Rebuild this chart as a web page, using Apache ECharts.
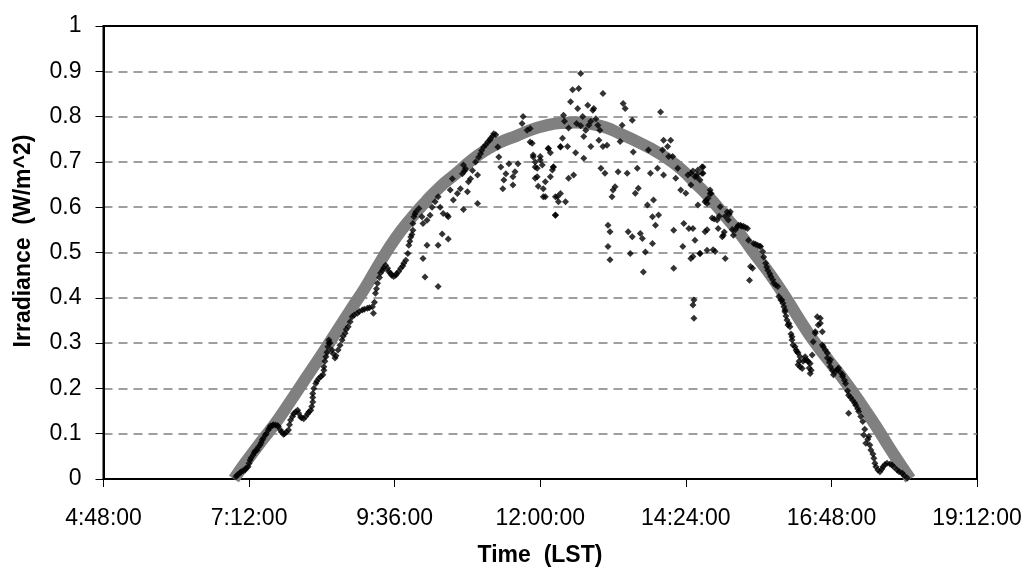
<!DOCTYPE html>
<html>
<head>
<meta charset="utf-8">
<script src="https://cdn.jsdelivr.net/npm/echarts@6/dist/echarts.min.js"></script>
<style>
html,body{margin:0;padding:0;background:#fff;}
#chart{width:1028px;height:573px;}
</style>
</head>
<body>
<div id="chart"></div>
<script>
// Clear-sky model curve (time in minutes after midnight, LST)
const clearTime = [417,428,443,458,473,488,503,517,532,547,562,577,592,607,621,636,651,666,681,696,710,725,740,755,770,785,799,814,829,844,859,874,888,903,918,933,948,963,977,992,1007,1022,1037,1052,1066,1076,1086];
const clearIrr  = [0,0.035,0.08,0.123,0.172,0.222,0.272,0.32,0.372,0.423,0.48,0.532,0.575,0.613,0.645,0.673,0.702,0.726,0.744,0.757,0.77,0.78,0.786,0.787,0.784,0.776,0.762,0.747,0.73,0.71,0.685,0.652,0.62,0.58,0.54,0.494,0.45,0.40,0.35,0.30,0.257,0.214,0.167,0.117,0.067,0.033,0];

// Measured irradiance, [minutes after midnight, W/m^2]
const obsMorning = [
[419,.005],[420,.008],[421,.01],[423,.013],[424,.016],[426,.018],[428,.02],[429,.024],[431,.027],[432,.035],[433,.042],[434,.047],[436,.053],[437,.058],[438,.062],[440,.064],[441,.07],[443,.075],[444,.08],[445,.086],[446,.09],[448,.097],[449,.1],[451,.108],[452,.112],[453,.117],[455,.118],[456,.12],[458,.119],[460,.118],[461,.116],[463,.108],[464,.104],[466,.099],[467,.1],[469,.104],[471,.108],[472,.12],[473,.13],[475,.138],[476,.144],[478,.148],[480,.152],[481,.145],[483,.137],[484,.135],[486,.133],[488,.138],[490,.144],[491,.148],[493,.152],[494,.16],[495,.17],[495,.18],[495,.189],[496,.2],[498,.211],[499,.216],[501,.222],[503,.226],[505,.23],[506,.24],[506,.248],[507,.26],[508,.27],[509,.28],[510,.292],[511,.3],[511,.307],[512,.3],[514,.285],[515,.277],[517,.267],[518,.272],[520,.285],[522,.295],[524,.307],[525,.315],[527,.322],[528,.33],[530,.336],[532,.347],[534,.358],[536,.362],[539,.366],[541,.37],[544,.373],[546,.375],[549,.377],[551,.378],[554,.38],[555,.366],[556,.39],[557,.41],[558,.42],[559,.432],[561,.445],[562,.455],[564,.461],[565,.466],[567,.472],[569,.465],[570,.458],[572,.454],[573,.45],[575,.447],[577,.45],[578,.453],[580,.458],[582,.465],[584,.47],[585,.476],[587,.483],[589,.498],[590,.516],[591,.525],[592,.534],[593,.54],[594,.549],[594,.564],[595,.579],[596,.585],[597,.59],[600,.597]
];
const obsMidMorning = [
[603,.579],[604,.564],[608,.571],[611,.582],[613,.6],[616,.612],[619,.623],[621,.6],[624,.586],[628,.582],[629,.579],[631,.638],[633,.663],[634,.616],[638,.63],[641,.641],[643,.674],[644,.693],[644,.595],[645,.68],[646,.685],[648,.634],[649,.656],[651,.663],[653,.681],[656,.7],[658,.608],[658,.671],[659,.71],[661,.718],[662,.725],[664,.733],[666,.738],[668,.744],[670,.748],[671,.752],[673,.757],[674,.762],[676,.76],[678,.733],[679,.711],[681,.689],[683,.641],[684,.66],[686,.674],[689,.696],[693,.667],[693,.649],[695,.678],[698,.696],[702,.785],[703,.8],[707,.77],[710,.744],[713,.711],[715,.689],[717,.667],[720,.704],[723,.641],[725,.623],[728,.729],[730,.667],[733,.689],[737,.623],[735,.582],[740,.733],
[604,.487],[608,.516],[606,.446],[619,.425],[623,.541],[629,.53],[619,.516]
];
const obsMidday = [
[710,.774],[712,.741],[713,.715],[715,.7],[717,.686],[715,.664],[718,.646],[720,.712],[723,.623],[725,.656],[722,.693],[728,.73],[730,.72],[732,.682],[733,.689],[735,.623],[735,.583],[738,.612],[740,.63],[742,.752],[740,.734],[743,.803],[744,.79],[745,.612],[747,.734],[748,.664],[748,.775],[750,.833],[752,.859],[753,.671],[755,.72],[756,.785],[757,.818],[758,.862],[760,.895],[760,.78],[762,.8],[763,.756],[763,.708],[765,.77],[767,.825],[768,.781],[770,.734],[770,.79],[772,.814],[773,.818],[775,.795],[777,.781],[778,.748],[779,.77],[780,.686],[782,.734],[782,.851],[784,.675],[786,.737],[787,.56],[789,.546],[787,.513],[789,.484],[791,.623],[792,.638],[794,.645],[797,.678],[799,.745],[801,.781],[802,.829],[804,.818],[806,.675],[807,.546],[809,.498],[811,.535],[811,.792],[812,.722],[814,.631],[816,.686],[817,.642],[819,.542],[821,.531],[822,.457],[824,.501],[826,.605],[827,.726],[829,.675],[831,.52],[831,.579],[832,.616],[834,.56],[836,.686],[837,.583],[839,.81],[841,.726],[842,.671],[842,.748],[846,.734],[847,.712],[849,.748],[851,.712],[852,.549],[852,.465],[854,.664],[856,.686],[859,.638],[861,.513],[862,.564],[864,.631],[866,.671],[867,.553],[869,.649],[871,.491],[872,.395],[871,.384],[872,.355],[873,.527],[875,.667],[876,.605],[878,.498],[880,.675],[881,.689],[883,.546],[885,.505],[885,.608],[888,.63]
];
const obsAfternoon = [
[869,.675],[871,.68],[873,.667],[875,.672],[876,.682],[878,.66],[880,.689],[881,.675],[883,.612],[884,.615],[886,.62],[888,.638],[889,.63],[890,.576],[892,.574],[895,.572],[896,.553],[897,.58],[898,.601],[900,.535],[901,.538],[902,.545],[903,.58],[905,.59],[906,.572],[907,.585],[908,.59],[910,.551],[911,.538],[913,.55],[915,.557],[916,.56],[918,.56],[919,.558],[921,.558],[923,.555],[925,.553],[926,.527],[927,.439],[928,.469],[930,.465],[931,.52],[933,.518],[935,.516],[937,.514],[938,.513],[940,.502],[941,.49],[943,.476],[944,.468],[945,.461],[947,.453],[948,.447],[950,.44],[951,.432],[953,.428],[955,.425],[956,.403],[958,.395],[959,.395],[960,.388],[961,.38],[962,.373],[962,.369],[963,.36],[964,.351],[965,.34],[966,.343],[967,.336],[968,.32],[969,.314],[969,.307],[970,.296],[972,.292],[973,.285],[974,.281],[975,.278],[975,.252],[976,.26],[977,.248],[977,.27],[979,.244],[980,.26],[982,.27],[982,.263],[984,.262],[985,.259],[986,.245],[987,.233],[987,.255],[988,.24],[989,.274],[990,.303],[992,.322],[992,.325],[994,.358],[995,.34],[997,.355],[997,.344],[999,.325],[999,.296],[1000,.292],[1002,.285],[1004,.267],[1004,.278],[1006,.258],[1007,.248],[1007,.263],[1009,.24],[1010,.23],[1012,.238],[1014,.241],[1015,.245],[1017,.235],[1019,.226],[1019,.23],[1021,.218],[1022,.211],[1024,.195],[1025,.185],[1025,.145],[1027,.18],[1029,.174],[1031,.168],[1032,.163],[1034,.155],[1035,.149],[1037,.138],[1039,.127],[1040,.097],[1041,.11],[1042,.079],[1044,.088],[1045,.094],[1046,.075],[1047,.064],[1049,.055],[1050,.046],[1051,.035],[1052,.027],[1054,.02],[1056,.016],[1058,.022],[1059,.027],[1061,.032],[1063,.035],[1066,.033],[1068,.031],[1070,.026],[1073,.02],[1075,.016],[1078,.013],[1080,.008],[1083,.002],
[871,.553],[878,.498],[869,.487],[885,.55],[891,.506],[893,.502],[903,.487]
];

// Axis tick settings
const xMin = 288, xMax = 1152, xStep = 144;   // 4:48:00 .. 19:12:00
const yMin = 0, yMax = 1, yStep = 0.1;

const clearData = clearTime.map((t, i) => [t, clearIrr[i]]);
const obsData = [].concat(obsMorning, obsMidMorning, obsMidday, obsAfternoon);

function fmtTime(m) {
  const h = Math.floor(m / 60);
  const mm = Math.round(m - h * 60);
  return h + ':' + String(mm).padStart(2, '0') + ':00';
}

const FONT = '"Liberation Sans", Arial, sans-serif';
const chart = echarts.init(document.getElementById('chart'), null, {renderer: 'canvas'});
chart.setOption({
  animation: false,
  backgroundColor: '#fff',
  grid: {left: 103.5, right: 51, top: 26, bottom: 94, show: true, borderColor: '#000', borderWidth: 2, backgroundColor: 'transparent'},
  xAxis: {
    type: 'value', min: xMin, max: xMax, interval: xStep,
    axisLine: {show: true, onZero: false, lineStyle: {color: '#000', width: 2}},
    axisTick: {show: true, inside: false, length: 8, lineStyle: {color: '#000', width: 1}},
    axisLabel: {color: '#000', fontSize: 23, fontFamily: FONT, margin: 28, formatter: fmtTime, showMinLabel: true, showMaxLabel: true},
    splitLine: {show: false}
  },
  yAxis: {
    type: 'value', min: yMin, max: yMax, interval: yStep,
    axisLine: {show: true, lineStyle: {color: '#000', width: 2}},
    axisTick: {show: true, inside: false, length: 8, lineStyle: {color: '#000', width: 1}},
    axisLabel: {color: '#000', fontSize: 23, fontFamily: FONT, margin: 22, formatter: v => String(+v.toFixed(1))},
    splitLine: {show: true, showMinLine: false, showMaxLine: false, lineStyle: {color: '#808080', width: 1.5, type: [9, 6]}}
  },
  graphic: [
    {type: 'text', x: 540, y: 556, style: {text: 'Time  (LST)', font: 'bold 23px ' + FONT, fill: '#000', textAlign: 'center', textVerticalAlign: 'middle'}},
    {type: 'text', x: 24, y: 241, rotation: Math.PI / 2, style: {text: 'Irradiance  (W/m^2)', font: 'bold 23px ' + FONT, fill: '#000', textAlign: 'center', textVerticalAlign: 'middle'}}
  ],
  series: [
    {type: 'line', data: clearData, smooth: 0.5, showSymbol: false, symbol: 'none', lineStyle: {color: '#808080', width: 12}, z: 2},
    {type: 'scatter', data: obsData, symbol: 'diamond', symbolSize: 7, itemStyle: {color: '#000'}, z: 3}
  ]
});
</script>
</body>
</html>
